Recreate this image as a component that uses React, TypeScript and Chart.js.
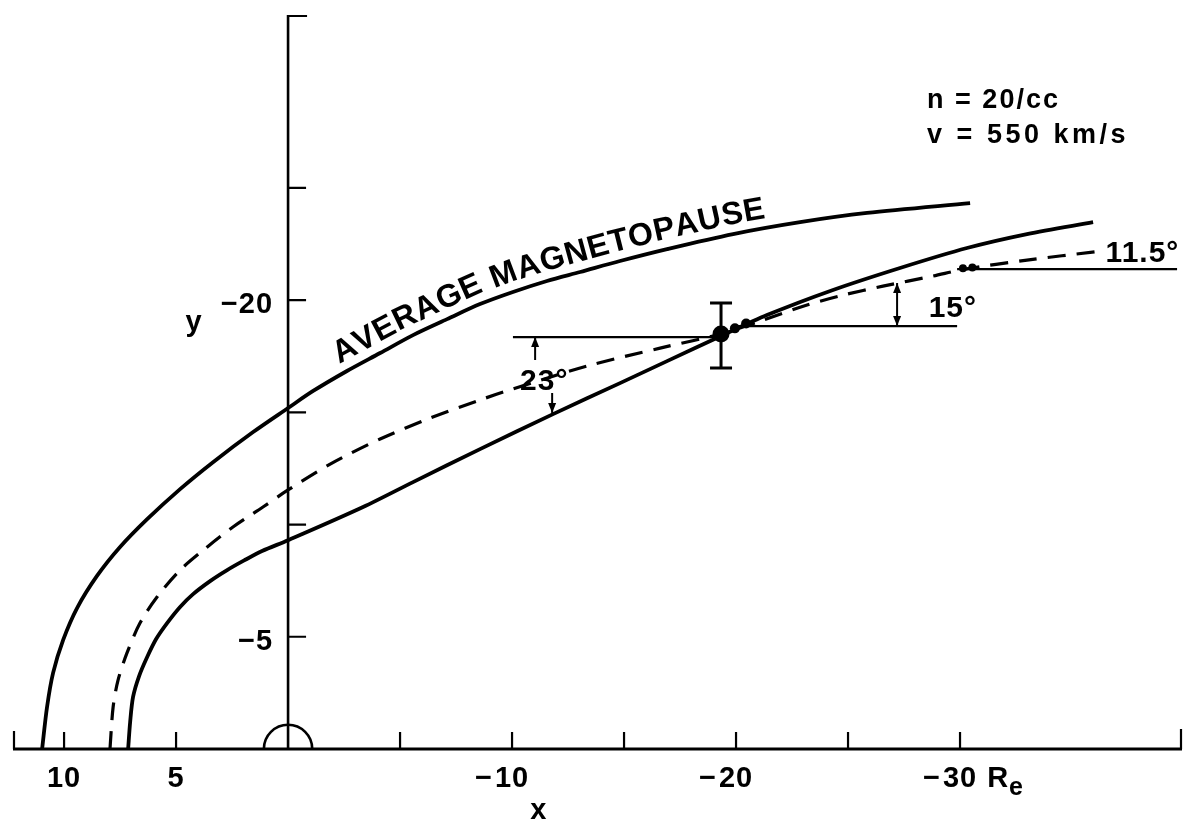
import React, { useEffect, useRef } from "react";
import { Chart, registerables } from "chart.js";

Chart.register(...registerables);

// ---------- data (x, y in Earth radii) ----------
const magnetopauseX = [10.98, 10.76, 10.49, 10.04, 9.42, 8.53, 7.5, 6.29, 4.82, 3.35, 1.56, 0, -1.12, -2.63, -4.11, -5.58, -7.1, -8.57, -10.04, -11.56, -13.04, -14.82, -16.92, -19.87, -22.86, -25.85, -30.45];
const magnetopauseY = [0, -1.87, -3.39, -4.86, -6.28, -7.71, -9.0, -10.24, -11.58, -12.78, -14.12, -15.19, -15.95, -16.84, -17.64, -18.44, -19.15, -19.82, -20.36, -20.85, -21.25, -21.74, -22.27, -22.94, -23.47, -23.88, -24.32];

const dashedX = [7.95, 7.81, 7.59, 7.19, 6.61, 5.85, 4.82, 3.62, 2.46, 1.12, 0, -1.88, -4.11, -6.34, -8.57, -10.04, -13.35, -16.61, -19.33, -21.07, -23.17, -24.78, -26.56, -28.79, -30.22, -32.99, -36.1];
const dashedY = [0, -1.87, -3.07, -4.28, -5.61, -6.77, -7.97, -8.99, -9.89, -10.78, -11.54, -12.69, -13.81, -14.74, -15.55, -16.04, -17.06, -17.86, -18.49, -19.06, -19.78, -20.22, -20.62, -21.07, -21.38, -21.78, -22.16];

const innerX = [7.14, 7.05, 6.92, 6.65, 6.29, 5.89, 5.4, 4.82, 4.24, 3.48, 2.72, 1.96, 1.16, 0, -3.35, -5.58, -8.57, -11.83, -14.82, -16.92, -19.33, -21.38, -24.33, -27.32, -30.31, -32.99, -35.94];
const innerY = [0, -1.2, -2.32, -3.25, -4.1, -4.9, -5.61, -6.33, -6.9, -7.48, -7.97, -8.4, -8.82, -9.3, -10.78, -11.89, -13.36, -14.92, -16.3, -17.28, -18.4, -19.33, -20.45, -21.43, -22.32, -22.94, -23.47];

// horizontal reference lines: [xStart, xEnd, y]
const ref23 = [-10.04, -19.33, -18.35];
const ref15 = [-19.96, -29.87, -18.84];
const ref115 = [-29.87, -39.69, -21.38];

// observation with error bar
const obsX = [-19.33];
const obsY = [-18.49];
const obsLow = [-16.97];
const obsHigh = [-19.87];
const smearX = [-19.95, -20.45];
const smearY = [-18.74, -18.96];
const farDotsX = [-30.13, -30.55];
const farDotsY = [-21.42, -21.45];

// angle arrows: [x, yFrom, yTo, headAtFrom(1/0), headAtTo(1/0)]
const arrow23a = [-11.03, -17.33, -18.35, 0, 1];
const arrow23b = [-11.79, -15.86, -14.97, 0, 1];
const arrow15 = [-27.19, -18.84, -20.76, 1, 1];

// axis ticks and labels
const xTickValues = [10, 5, -5, -10, -15, -20, -25, -30];
const xLabelValues = [10, 5, -10, -20, -30];
const xLabelSigns = ["", "", "\u2212", "\u2212", "\u2212"];
const xLabelDigits = ["10", "5", "10", "20", "30"];
const yTickValues = [-5, -10, -15, -20, -25];
const yLabelValues = [-20, -5];
const yLabelTexts = ["\u221220", "\u22125"];

const X_MIN = -39.91;
const X_MAX = 12.28;
const Y_MIN = -32.7;
const Y_MAX = 0;

const FONT = "'Liberation Sans', Arial, Helvetica, sans-serif";

const toPts = (xs: number[], ys: number[]) => xs.map((x, i) => ({ x, y: ys[i] }));

function drawArrowHead(ctx: CanvasRenderingContext2D, x: number, y: number, dir: number) {
  ctx.beginPath();
  ctx.moveTo(x, y);
  ctx.lineTo(x - 4, y - dir * 10);
  ctx.lineTo(x + 4, y - dir * 10);
  ctx.closePath();
  ctx.fill();
}

function textAlongCurve(
  ctx: CanvasRenderingContext2D,
  pts: { x: number; y: number }[],
  text: string,
  startPx: number,
  offset: number,
  spacing: number
) {
  const cum = [0];
  for (let i = 1; i < pts.length; i++) {
    cum.push(cum[i - 1] + Math.hypot(pts[i].x - pts[i - 1].x, pts[i].y - pts[i - 1].y));
  }
  let s0 = 0;
  for (let i = 1; i < pts.length; i++) {
    if (pts[i].x >= startPx) {
      const t = (startPx - pts[i - 1].x) / (pts[i].x - pts[i - 1].x);
      s0 = cum[i - 1] + t * (cum[i] - cum[i - 1]);
      break;
    }
  }
  const at = (s: number) => {
    for (let i = 1; i < pts.length; i++) {
      if (cum[i] >= s) {
        const t = (s - cum[i - 1]) / (cum[i] - cum[i - 1]);
        const a = pts[i - 1];
        const b = pts[i];
        const pa = pts[Math.max(0, i - 2)];
        const pb = pts[Math.min(pts.length - 1, i + 1)];
        const ang1 = Math.atan2(b.y - a.y, b.x - a.x);
        const ang2 = Math.atan2(pb.y - pa.y, pb.x - pa.x);
        return { x: a.x + t * (b.x - a.x), y: a.y + t * (b.y - a.y), ang: 0.5 * (ang1 + ang2) };
      }
    }
    const n = pts.length;
    return { x: pts[n - 1].x, y: pts[n - 1].y, ang: Math.atan2(pts[n - 1].y - pts[n - 2].y, pts[n - 1].x - pts[n - 2].x) };
  };
  let s = s0;
  for (const ch of text) {
    const w = ctx.measureText(ch).width;
    const p = at(s + w / 2);
    ctx.save();
    ctx.translate(p.x, p.y);
    ctx.rotate(p.ang);
    ctx.textAlign = "center";
    ctx.textBaseline = "alphabetic";
    ctx.fillText(ch, 0, -offset);
    ctx.restore();
    s += w + spacing;
  }
}

const figurePlugin = {
  id: "figurePlugin",
  beforeDatasetsDraw(chart: any) {
    const { ctx, chartArea } = chart;
    const xs = chart.scales.x;
    const ys = chart.scales.y;
    const px = (v: number) => xs.getPixelForValue(v);
    const py = (v: number) => ys.getPixelForValue(v);
    ctx.save();
    ctx.strokeStyle = "#000";
    ctx.fillStyle = "#000";
    ctx.lineCap = "butt";

    // x axis
    const y0 = py(0);
    ctx.lineWidth = 3;
    ctx.beginPath();
    ctx.moveTo(chartArea.left, y0);
    ctx.lineTo(chartArea.right, y0);
    ctx.stroke();
    ctx.lineWidth = 2.2;
    ctx.beginPath();
    ctx.moveTo(chartArea.left + 1, y0);
    ctx.lineTo(chartArea.left + 1, y0 - 18);
    ctx.moveTo(chartArea.right - 1, y0);
    ctx.lineTo(chartArea.right - 1, y0 - 20);
    for (const v of xTickValues) {
      ctx.moveTo(px(v), y0);
      ctx.lineTo(px(v), y0 - 17);
    }
    ctx.stroke();

    // y axis at x = 0
    const x0 = px(0);
    ctx.lineWidth = 2.6;
    ctx.beginPath();
    ctx.moveTo(x0, y0);
    ctx.lineTo(x0, chartArea.top);
    ctx.stroke();
    ctx.lineWidth = 2.2;
    ctx.beginPath();
    ctx.moveTo(x0, chartArea.top + 1);
    ctx.lineTo(x0 + 19, chartArea.top + 1);
    for (const v of yTickValues) {
      ctx.moveTo(x0, py(v));
      ctx.lineTo(x0 + 18, py(v));
    }
    ctx.stroke();

    // Earth (semicircle, radius ~1 Re)
    const r = Math.abs(px(1.08) - px(0));
    ctx.lineWidth = 2.6;
    ctx.beginPath();
    ctx.arc(x0, y0, r, Math.PI, 2 * Math.PI);
    ctx.stroke();

    // horizontal reference lines
    ctx.lineWidth = 2.2;
    for (const h of [ref23, ref15, ref115]) {
      ctx.beginPath();
      ctx.moveTo(px(h[0]), py(h[2]));
      ctx.lineTo(px(h[1]), py(h[2]));
      ctx.stroke();
    }

    // error bar
    ctx.lineWidth = 3;
    for (let i = 0; i < obsX.length; i++) {
      const ex = px(obsX[i]);
      const cap = 11;
      ctx.beginPath();
      ctx.moveTo(ex, py(obsLow[i]));
      ctx.lineTo(ex, py(obsHigh[i]));
      ctx.moveTo(ex - cap, py(obsLow[i]));
      ctx.lineTo(ex + cap, py(obsLow[i]));
      ctx.moveTo(ex - cap, py(obsHigh[i]));
      ctx.lineTo(ex + cap, py(obsHigh[i]));
      ctx.stroke();
    }

    // arrows
    ctx.lineWidth = 2;
    for (const a of [arrow23a, arrow23b, arrow15]) {
      const ax = px(a[0]);
      const yA = py(a[1]);
      const yB = py(a[2]);
      ctx.beginPath();
      ctx.moveTo(ax, yA);
      ctx.lineTo(ax, yB);
      ctx.stroke();
      if (a[3]) drawArrowHead(ctx, ax, yA, yA > yB ? 1 : -1);
      if (a[4]) drawArrowHead(ctx, ax, yB, yB > yA ? 1 : -1);
    }
    ctx.restore();
  },
  afterDatasetsDraw(chart: any) {
    const { ctx } = chart;
    const xs = chart.scales.x;
    const ys = chart.scales.y;
    const px = (v: number) => xs.getPixelForValue(v);
    const py = (v: number) => ys.getPixelForValue(v);
    const y0 = py(0);
    const x0 = px(0);
    ctx.save();
    ctx.fillStyle = "#000";
    (ctx as any).letterSpacing = "1px";

    // x tick labels: digits centred on tick, minus to the left
    ctx.font = `bold 29px ${FONT}`;
    ctx.textBaseline = "alphabetic";
    for (let i = 0; i < xLabelValues.length; i++) {
      const d = xLabelDigits[i];
      const w = ctx.measureText(d).width;
      const cx = px(xLabelValues[i]);
      ctx.textAlign = "left";
      ctx.fillText(d, cx - w / 2, y0 + 38);
      if (xLabelSigns[i]) {
        ctx.textAlign = "right";
        ctx.fillText(xLabelSigns[i], cx - w / 2 - 2, y0 + 38);
      }
    }
    // units "Re" after -30
    {
      const w = ctx.measureText("30").width;
      const cx = px(-30) + w / 2 + 10;
      ctx.textAlign = "left";
      ctx.fillText("R", cx, y0 + 38);
      const rw = ctx.measureText("R").width;
      ctx.font = `bold 25px ${FONT}`;
      ctx.fillText("e", cx + rw, y0 + 46);
    }
    // x axis title
    ctx.font = `bold 29px ${FONT}`;
    ctx.textAlign = "center";
    ctx.fillText("x", px(-11.2), y0 + 70);

    // y tick labels
    ctx.textAlign = "right";
    for (let i = 0; i < yLabelValues.length; i++) {
      ctx.fillText(yLabelTexts[i], x0 - 15, py(yLabelValues[i]) + 13);
    }
    // y axis title
    ctx.textAlign = "center";
    ctx.fillText("y", px(4.2), py(-18.6));

    // angle labels
    ctx.font = `bold 30px ${FONT}`;
    ctx.textAlign = "left";
    ctx.fillText("23\u00b0", px(-10.36), py(-15.99));
    ctx.fillText("15\u00b0", px(-28.6), py(-19.24));
    ctx.fillText("11.5\u00b0", px(-36.5), py(-21.69));

    // solar wind parameters
    ctx.font = `bold 27px ${FONT}`;
    (ctx as any).letterSpacing = "2px";
    ctx.fillText("n = 20/cc", px(-28.53), py(-28.55));
    (ctx as any).letterSpacing = "3.5px";
    ctx.fillText("v = 550 km/s", px(-28.53), py(-27.0));

    // curved label along the magnetopause
    ctx.font = `bold 32px ${FONT}`;
    (ctx as any).letterSpacing = "0px";
    const curve = magnetopauseX.map((x, i) => ({ x: px(x), y: py(magnetopauseY[i]) }));
    textAlongCurve(ctx, curve, "AVERAGE MAGNETOPAUSE", px(-2.5), 10, 0.5);

    ctx.restore();
  },
};

export default function App() {
  const canvasRef = useRef<HTMLCanvasElement | null>(null);

  useEffect(() => {
    document.body.style.margin = "0";
    document.body.style.background = "#fff";
    const canvas = canvasRef.current;
    if (!canvas) return;
    const lineDs = (data: any[], width: number, dash: number[] = []) => ({
      data,
      showLine: true,
      borderColor: "#000",
      borderWidth: width,
      borderDash: dash,
      pointRadius: 0,
      tension: 0.3,
      fill: false,
    });
    const dot = (data: any[], r: number) => ({
      data,
      pointRadius: r,
      pointBackgroundColor: "#000",
      pointBorderWidth: 0,
      showLine: false,
    });
    const chart = new Chart(canvas, {
      type: "scatter",
      data: {
        datasets: [
          lineDs(toPts(magnetopauseX, magnetopauseY), 3.8),
          lineDs(toPts(dashedX, dashedY), 3.2, [18, 11]),
          lineDs(toPts(innerX, innerY), 3.8),
          dot(toPts(obsX, obsY), 8.5),
          dot(toPts(smearX, smearY), 5),
          dot(toPts(farDotsX, farDotsY), 4),
        ] as any,
      },
      options: {
        animation: false,
        responsive: false,
        devicePixelRatio: 1,
        events: [],
        layout: { padding: { left: 13, right: 16, top: 15, bottom: 75 }, autoPadding: false } as any,
        plugins: { legend: { display: false }, tooltip: { enabled: false } },
        scales: {
          x: { type: "linear", min: X_MIN, max: X_MAX, reverse: true, display: false },
          y: { type: "linear", min: Y_MIN, max: Y_MAX, reverse: true, display: false },
        },
      },
      plugins: [figurePlugin],
    });
    return () => chart.destroy();
  }, []);

  return (
    <div style={{ position: "absolute", left: 0, top: 0, width: 1198, height: 824, background: "#fff" }}>
      <canvas ref={canvasRef} width={1198} height={824} style={{ display: "block" }} />
    </div>
  );
}
